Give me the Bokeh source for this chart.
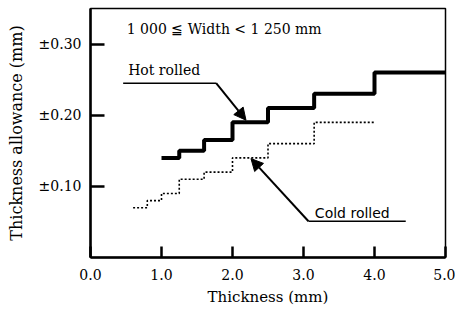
from bokeh.plotting import figure
from bokeh.models import Arrow, NormalHead, FixedTicker, Label
from bokeh.embed import file_html
from bokeh.resources import INLINE

# Data
hot_edges = [1.0, 1.25, 1.6, 2.0, 2.5, 3.15, 4.0, 5.0]
hot_vals = [0.14, 0.15, 0.165, 0.19, 0.21, 0.23, 0.26]
cold_edges = [0.6, 0.8, 1.0, 1.25, 1.6, 2.0, 2.5, 3.15, 4.0]
cold_vals = [0.07, 0.08, 0.09, 0.11, 0.12, 0.14, 0.16, 0.19]
x_ticks = [0, 1, 2, 3, 4, 5]
x_tick_labels = ["0.0", "1.0", "2.0", "3.0", "4.0", "5.0"]
y_ticks = [0.1, 0.2, 0.3]
y_tick_labels = ["\u00b10.10", "\u00b10.20", "\u00b10.30"]

SERIF = "DejaVu Serif"

p = figure(frame_width=355, frame_height=249, x_range=(0, 5), y_range=(0, 0.35),
           output_backend="svg", toolbar_location=None,
           min_border_left=90, min_border_right=10, min_border_top=8, min_border_bottom=48)
p.background_fill_color = "white"
p.border_fill_color = "white"
p.xgrid.visible = False
p.ygrid.visible = False
p.outline_line_color = "black"
p.outline_line_width = 1.5

for ax in (p.xaxis[0], p.yaxis[0]):
    ax.axis_line_width = 2.5
    ax.axis_line_color = "black"
    ax.major_tick_out = 0
    ax.minor_tick_in = 0
    ax.minor_tick_out = 0
    ax.major_tick_line_width = 2.5
    ax.major_label_text_font = SERIF
    ax.major_label_text_font_size = "14px"
    ax.major_label_text_color = "black"
    ax.axis_label_text_font = SERIF
    ax.axis_label_text_font_size = "15px"
    ax.axis_label_text_font_style = "normal"
    ax.axis_label_text_color = "black"

p.xaxis[0].ticker = FixedTicker(ticks=x_ticks)
p.xaxis[0].major_label_overrides = {t: l for t, l in zip(x_ticks, x_tick_labels)}
p.xaxis[0].major_tick_in = 11
p.xaxis[0].major_label_standoff = 11
p.xaxis[0].axis_label = "Thickness (mm)"
p.xaxis[0].axis_label_standoff = 5

p.yaxis[0].ticker = FixedTicker(ticks=y_ticks)
p.yaxis[0].major_label_overrides = {t: l for t, l in zip(y_ticks, y_tick_labels)}
p.yaxis[0].major_tick_in = 14
p.yaxis[0].major_label_standoff = 9
p.yaxis[0].axis_label = "Thickness allowance (mm)"
p.yaxis[0].axis_label_text_font_size = "16px"
p.yaxis[0].axis_label_standoff = 10

# Step lines
p.step(hot_edges, hot_vals + [hot_vals[-1]], mode="after", line_color="black", line_width=4)
p.step(cold_edges, cold_vals + [cold_vals[-1]], mode="after", line_color="black",
       line_width=1.6, line_dash="2 2")

# Annotations
p.add_layout(Label(x=0.51, y=0.321, text="1 000 \u2266 Width < 1 250 mm", text_font=SERIF,
                   text_font_size="14px", text_baseline="middle", text_color="black"))
p.add_layout(Label(x=0.53, y=0.263, text="Hot rolled", text_font=SERIF,
                   text_font_size="14px", text_baseline="middle", text_color="black"))
p.add_layout(Label(x=3.16, y=0.063, text="Cold rolled", text_font="DejaVu Sans",
                   text_font_size="14px", text_baseline="middle", text_color="black"))

# leader lines
p.line([0.46, 1.77], [0.245, 0.245], line_color="black", line_width=1.5)
p.add_layout(Arrow(x_start=1.77, y_start=0.245, x_end=2.19, y_end=0.193,
                   line_color="black", line_width=2,
                   end=NormalHead(size=12, fill_color="black", line_color="black")))
p.line([3.07, 4.44], [0.051, 0.051], line_color="black", line_width=1.5)
p.add_layout(Arrow(x_start=3.07, y_start=0.051, x_end=2.26, y_end=0.139,
                   line_color="black", line_width=2,
                   end=NormalHead(size=12, fill_color="black", line_color="black")))

open("out.html", "w").write(file_html(p, INLINE))
